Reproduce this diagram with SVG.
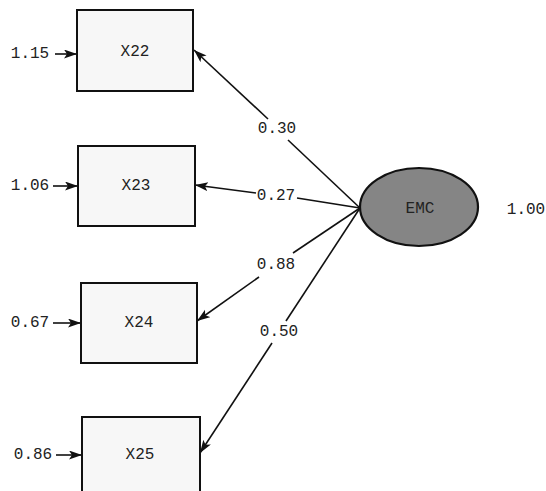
<svg xmlns="http://www.w3.org/2000/svg" width="546" height="491" viewBox="0 0 546 491">
  <defs>
    <marker id="arr" markerUnits="userSpaceOnUse" markerWidth="14" markerHeight="10" refX="13" refY="4.5" orient="auto">
      <path d="M0,0 L13,4.5 L0,9 L3,4.5 z" fill="#111"/>
    </marker>
    <style>
      .box { fill: #f7f7f7; stroke: #111; stroke-width: 2; }
      .lat { fill: #858585; stroke: #111; stroke-width: 2.2; }
      .t { font-family: "Liberation Mono", "DejaVu Sans Mono", monospace; font-size: 16px; fill: #222; text-anchor: middle; dominant-baseline: central; }
      .c { stroke: #111; stroke-width: 1.6; fill: none; }
    </style>
  </defs>
  <rect width="546" height="491" fill="#ffffff"/>

  <g id="connectors">
    <line class="c" x1="360" y1="208" x2="288" y2="140"/>
    <line class="c" x1="268" y1="119" x2="194" y2="50" marker-end="url(#arr)"/>
    <line class="c" x1="360" y1="208" x2="297" y2="198"/>
    <line class="c" x1="256" y1="193" x2="195" y2="185" marker-end="url(#arr)"/>
    <line class="c" x1="360" y1="208" x2="293" y2="253"/>
    <line class="c" x1="259" y1="277" x2="197" y2="321" marker-end="url(#arr)"/>
    <line class="c" x1="360" y1="208" x2="286" y2="321"/>
    <line class="c" x1="272" y1="343" x2="200" y2="453" marker-end="url(#arr)"/>
    <line class="c" x1="55" y1="54" x2="77" y2="54" marker-end="url(#arr)"/>
    <line class="c" x1="53" y1="186" x2="78" y2="186" marker-end="url(#arr)"/>
    <line class="c" x1="53" y1="323" x2="81" y2="323" marker-end="url(#arr)"/>
    <line class="c" x1="56" y1="455" x2="82" y2="455" marker-end="url(#arr)"/>
  </g>

  <g id="X22">
    <rect class="box" x="77" y="10" width="116" height="81"/>
    <text class="t" x="135" y="52">X22</text>
  </g>
  <g id="X23">
    <rect class="box" x="78" y="146" width="117" height="80"/>
    <text class="t" x="136" y="186">X23</text>
  </g>
  <g id="X24">
    <rect class="box" x="81" y="283" width="116" height="80"/>
    <text class="t" x="139" y="323">X24</text>
  </g>
  <g id="X25">
    <rect class="box" x="82" y="417" width="118" height="82"/>
    <text class="t" x="140" y="455">X25</text>
  </g>
  <g id="latent">
    <ellipse class="lat" cx="419" cy="207" rx="59" ry="39"/>
    <text class="t" x="420" y="209" fill="#333">EMC</text>
  </g>

  <g id="labels">
    <text class="t" x="30" y="54">1.15</text>
    <text class="t" x="30" y="186">1.06</text>
    <text class="t" x="30" y="323">0.67</text>
    <text class="t" x="33" y="455">0.86</text>
    <text class="t" x="277" y="129">0.30</text>
    <text class="t" x="276" y="196">0.27</text>
    <text class="t" x="276" y="265">0.88</text>
    <text class="t" x="279" y="332">0.50</text>
    <text class="t" x="526" y="210">1.00</text>
  </g>
</svg>
